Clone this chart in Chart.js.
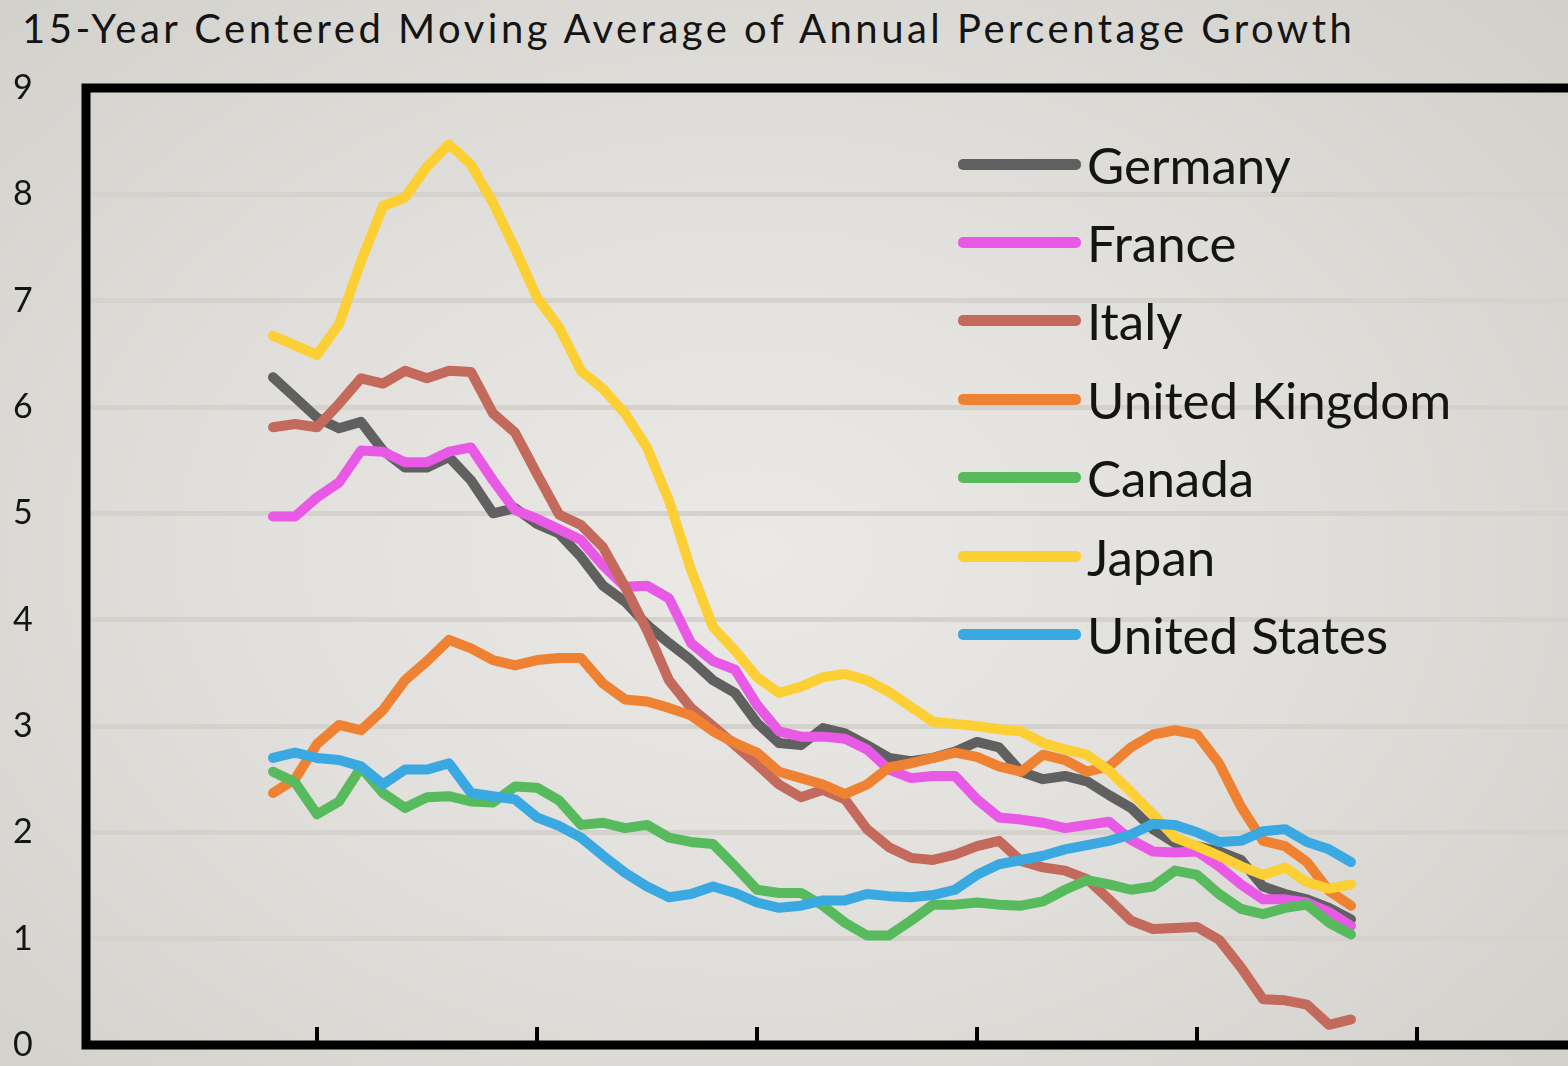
<!DOCTYPE html>
<html>
<head>
<meta charset="utf-8">
<title>15-Year Centered Moving Average of Annual Percentage Growth</title>
<script src="https://cdn.jsdelivr.net/npm/chart.js@4.4.1/dist/chart.umd.min.js"></script>
<style>
  html, body { margin: 0; padding: 0; width: 1568px; height: 1066px; overflow: hidden; }
  body {
    position: relative;
    background: radial-gradient(ellipse 70% 75% at 48% 52%, #ebe9e6 0%, #e2e0dc 45%, #d2d0cb 100%);
    font-family: Lato, "Noto Sans", sans-serif;
    color: #141414;
  }
  #title { position: absolute; left: 22px; top: 4px; font-size: 40px; letter-spacing: 3.5px; white-space: nowrap; }
  #chartBox { position: absolute; left: 0; top: 0; width: 1703px; height: 1066px; }
  #legend { position: absolute; left: 958px; top: 125px; }
  .item { display: flex; align-items: center; height: 78.4px; }
  .swatch { width: 123px; height: 11px; border-radius: 5px; margin-right: 6px; }
  .item span { font-size: 51px; line-height: 51px; }
</style>
</head>
<body>
<div id="title">15-Year Centered Moving Average of Annual Percentage Growth</div>
<div id="chartBox"><canvas id="growthChart"></canvas></div>
<div id="legend"></div>
<script>
const years = [1958, 1959, 1960, 1961, 1962, 1963, 1964, 1965, 1966, 1967,
               1968, 1969, 1970, 1971, 1972, 1973, 1974, 1975, 1976, 1977,
               1978, 1979, 1980, 1981, 1982, 1983, 1984, 1985, 1986, 1987,
               1988, 1989, 1990, 1991, 1992, 1993, 1994, 1995, 1996, 1997,
               1998, 1999, 2000, 2001, 2002, 2003, 2004, 2005, 2006, 2007];

const countries = ['Germany', 'France', 'Italy', 'United Kingdom', 'Canada', 'Japan', 'United States'];
const colors = ['#606060', '#e85ae6', '#c46a5c', '#ee8232', '#57bb5e', '#fccf35', '#3ba9e1'];

const germany = [6.28, 6.09, 5.90, 5.80, 5.86, 5.59, 5.43, 5.43, 5.53, 5.31,
                 5.00, 5.05, 4.90, 4.81, 4.59, 4.32, 4.17, 3.95, 3.78, 3.62,
                 3.43, 3.31, 3.03, 2.84, 2.82, 2.98, 2.93, 2.82, 2.70, 2.67,
                 2.70, 2.76, 2.85, 2.80, 2.57, 2.50, 2.53, 2.48, 2.35, 2.23,
                 2.03, 1.90, 1.87, 1.82, 1.74, 1.49, 1.42, 1.37, 1.29, 1.18];
const france = [4.97, 4.97, 5.15, 5.29, 5.59, 5.58, 5.48, 5.48, 5.58, 5.62,
                5.31, 5.03, 4.95, 4.85, 4.75, 4.51, 4.31, 4.32, 4.20, 3.78,
                3.61, 3.53, 3.20, 2.95, 2.90, 2.90, 2.88, 2.78, 2.59, 2.51,
                2.53, 2.53, 2.31, 2.14, 2.12, 2.09, 2.04, 2.07, 2.10, 1.93,
                1.82, 1.81, 1.82, 1.68, 1.51, 1.37, 1.37, 1.34, 1.25, 1.12];
const italy = [5.81, 5.84, 5.81, 6.03, 6.27, 6.22, 6.34, 6.27, 6.34, 6.33,
               5.94, 5.76, 5.37, 4.99, 4.89, 4.68, 4.31, 3.90, 3.43, 3.17,
               3.00, 2.82, 2.64, 2.45, 2.33, 2.40, 2.31, 2.03, 1.86, 1.76,
               1.74, 1.79, 1.87, 1.92, 1.73, 1.67, 1.64, 1.56, 1.37, 1.17,
               1.09, 1.10, 1.11, 0.99, 0.73, 0.43, 0.42, 0.38, 0.19, 0.24];
const unitedKingdom = [2.37, 2.50, 2.83, 3.01, 2.96, 3.15, 3.43, 3.61, 3.81, 3.73,
                       3.62, 3.57, 3.62, 3.64, 3.64, 3.40, 3.25, 3.23, 3.17, 3.10,
                       2.95, 2.84, 2.75, 2.57, 2.51, 2.45, 2.36, 2.45, 2.61, 2.65,
                       2.70, 2.75, 2.71, 2.62, 2.57, 2.73, 2.68, 2.57, 2.62, 2.80,
                       2.92, 2.96, 2.92, 2.65, 2.24, 1.92, 1.87, 1.72, 1.45, 1.31];
const canada = [2.57, 2.47, 2.17, 2.29, 2.61, 2.37, 2.23, 2.33, 2.34, 2.29,
                2.28, 2.43, 2.42, 2.30, 2.07, 2.09, 2.04, 2.07, 1.95, 1.91,
                1.89, 1.68, 1.46, 1.43, 1.43, 1.31, 1.15, 1.03, 1.03, 1.17,
                1.32, 1.32, 1.34, 1.32, 1.31, 1.35, 1.46, 1.55, 1.51, 1.46,
                1.49, 1.64, 1.60, 1.42, 1.28, 1.23, 1.29, 1.32, 1.15, 1.04];
const japan = [6.67, 6.58, 6.49, 6.78, 7.37, 7.89, 7.97, 8.26, 8.47, 8.28,
               7.92, 7.49, 7.03, 6.75, 6.34, 6.17, 5.94, 5.62, 5.12, 4.47,
               3.93, 3.71, 3.46, 3.31, 3.37, 3.46, 3.49, 3.43, 3.32, 3.18,
               3.04, 3.02, 3.00, 2.97, 2.95, 2.84, 2.78, 2.73, 2.58, 2.38,
               2.17, 1.95, 1.87, 1.78, 1.68, 1.60, 1.67, 1.53, 1.47, 1.51];
const unitedStates = [2.70, 2.75, 2.70, 2.68, 2.62, 2.45, 2.59, 2.59, 2.65, 2.37,
                      2.34, 2.31, 2.14, 2.06, 1.95, 1.78, 1.62, 1.49, 1.39, 1.42,
                      1.49, 1.43, 1.34, 1.29, 1.31, 1.36, 1.36, 1.42, 1.40, 1.39,
                      1.41, 1.46, 1.60, 1.70, 1.74, 1.78, 1.84, 1.88, 1.92, 1.98,
                      2.08, 2.07, 2.00, 1.91, 1.92, 2.01, 2.03, 1.91, 1.84, 1.72];

const tickYears = [1960, 1970, 1980, 1990, 2000, 2010];
const yTicks = [0, 1, 2, 3, 4, 5, 6, 7, 8, 9];

const series = [germany, france, italy, unitedKingdom, canada, japan, unitedStates];

// plot frame and the small inside tick marks on the x axis
const framePlugin = {
  id: 'frame',
  beforeDatasetsDraw(chart) {
    const { ctx, chartArea } = chart;
    const xScale = chart.scales.x;
    ctx.save();
    ctx.strokeStyle = '#000';
    ctx.lineWidth = 9;
    ctx.strokeRect(chartArea.left, chartArea.top, chartArea.right - chartArea.left, chartArea.bottom - chartArea.top);
    ctx.lineWidth = 4;
    tickYears.forEach(yr => {
      const px = Math.round(xScale.getPixelForValue(yr));
      ctx.beginPath();
      ctx.moveTo(px, chartArea.bottom);
      ctx.lineTo(px, chartArea.bottom - 18);
      ctx.stroke();
    });
    ctx.restore();
  }
};

const ctx = document.getElementById('growthChart').getContext('2d');

new Chart(ctx, {
  type: 'line',
  data: {
    datasets: countries.map((name, i) => ({
      label: name,
      data: years.map((yr, j) => ({ x: yr, y: series[i][j] })),
      borderColor: colors[i],
      backgroundColor: colors[i],
      borderWidth: 10,
      borderJoinStyle: 'round',
      borderCapStyle: 'round',
      pointRadius: 0,
      tension: 0,
      fill: false,
      order: countries.length - i
    }))
  },
  options: {
    responsive: true,
    maintainAspectRatio: false,
    animation: false,
    layout: { padding: { left: 13, top: 88, right: 0, bottom: 21 } },
    scales: {
      x: {
        type: 'linear',
        display: false,
        min: 1949.5,
        max: 2023
      },
      y: {
        min: 0,
        max: 9,
        afterFit(scale) { scale.width = 73; },
        afterBuildTicks(scale) { scale.ticks = yTicks.map(v => ({ value: v })); },
        border: { display: false },
        grid: { color: '#d5d2cd', lineWidth: 5, drawTicks: false },
        ticks: {
          crossAlign: 'far',
          padding: 0,
          color: '#141414',
          font: { family: 'Lato', size: 34 }
        }
      }
    },
    plugins: {
      legend: { display: false },
      tooltip: { enabled: false }
    }
  },
  plugins: [framePlugin]
});

// legend built from the same names and colours
const legend = document.getElementById('legend');
countries.forEach((name, i) => {
  const row = document.createElement('div');
  row.className = 'item';
  const sw = document.createElement('div');
  sw.className = 'swatch';
  sw.style.background = colors[i];
  const txt = document.createElement('span');
  txt.textContent = name;
  row.appendChild(sw);
  row.appendChild(txt);
  legend.appendChild(row);
});
</script>
</body>
</html>
